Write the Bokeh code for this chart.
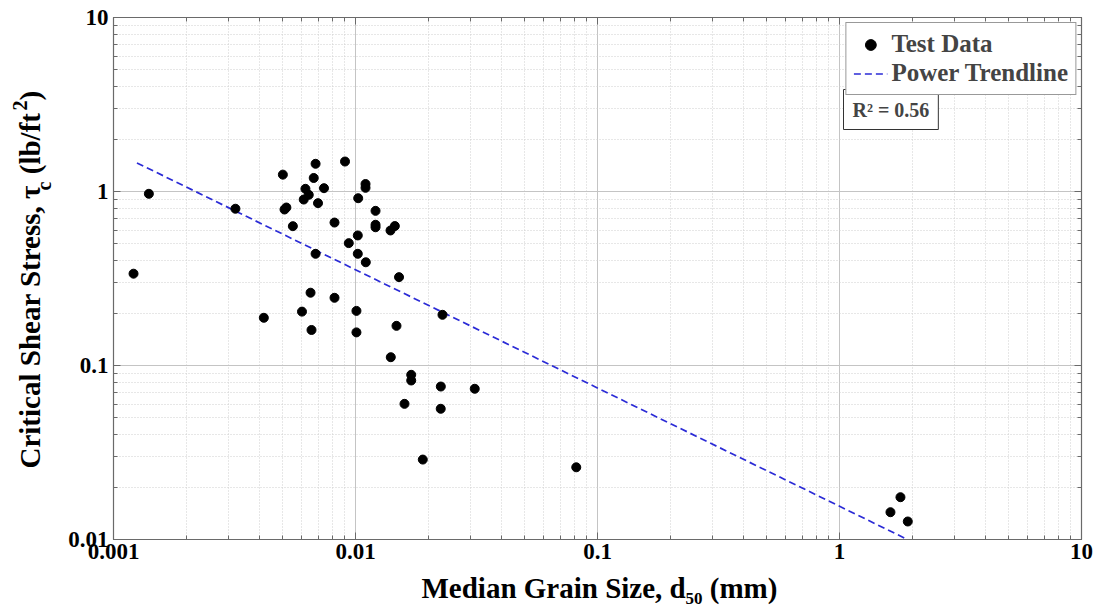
import math
from bokeh.plotting import figure
from bokeh.layouts import row, column
from bokeh.models import (Range1d, FixedTicker, CustomJSTickFormatter, LogAxis,
                          Label, Legend, LegendItem)
from bokeh.core.properties import value
from bokeh.embed import file_html
from bokeh.resources import INLINE

# ---- data ----
d50_mm = [0.00121, 0.00140, 0.00319, 0.00418, 0.00501, 0.00509, 0.00518, 0.00551,
          0.00601, 0.00621, 0.00611, 0.00641, 0.00652, 0.00658, 0.00672, 0.00684,
          0.00700, 0.00684, 0.00741, 0.00819, 0.00819, 0.00905, 0.00938, 0.01009,
          0.01009, 0.01026, 0.01022, 0.01022, 0.01100, 0.01100, 0.01103, 0.01210,
          0.01210, 0.01210, 0.01395, 0.01454, 0.01513, 0.01477, 0.01399, 0.02288,
          0.01699, 0.01699, 0.02252, 0.03110, 0.01594, 0.02250, 0.01897, 0.08170,
          1.786, 1.624, 1.915]
tau_c = [0.337, 0.970, 0.796, 0.188, 1.250, 0.788, 0.809, 0.632,
         0.204, 1.036, 0.899, 0.957, 0.262, 0.160, 1.196, 1.443,
         0.857, 0.4385, 1.045, 0.663, 0.245, 1.487, 0.505, 0.206,
         0.155, 0.915, 0.559, 0.4385, 1.104, 1.050, 0.392, 0.774,
         0.644, 0.623, 0.597, 0.633, 0.322, 0.169, 0.1116, 0.1956,
         0.0884, 0.0820, 0.0757, 0.0735, 0.0602, 0.0564, 0.0288, 0.0260,
         0.0175, 0.01435, 0.01269]
trend_x = [0.00125, 1.91]
trend_y = [1.46, 0.0100]
x_ticks = [0.001, 0.01, 0.1, 1, 10]
y_ticks = [0.01, 0.1, 1, 10]
r_squared_text = "R\u00b2 = 0.56"
legend_labels = ["Test Data", "Power Trendline"]
y_title = ["Critical Shear Stress, \u03c4", "c", "\u00a0(lb/ft", "2", ")"]
x_title = ["Median Grain Size, d", "50", "\u00a0(mm)"]

minor_x = [m * 10.0 ** e for e in range(-3, 1) for m in range(2, 10)]
minor_y = [m * 10.0 ** e for e in range(-2, 1) for m in range(2, 10)]

FONT = "Liberation Serif"
AX = "#6a6a6a"
W, H = 1096, 608
LEFT_W = 60          # strip holding the y title
BOTTOM_H = 36        # strip holding the x title
MAIN_W, MAIN_H = W - LEFT_W, H - BOTTOM_H
BL, BR = 53, 15      # main plot side borders

p = figure(width=MAIN_W, height=MAIN_H, x_axis_type="log", y_axis_type="log",
           x_range=Range1d(0.001, 10), y_range=Range1d(0.01, 10),
           output_backend="svg", toolbar_location=None, title=None,
           min_border_left=BL, min_border_right=BR, min_border_top=17,
           min_border_bottom=33)
p.background_fill_color = "white"
p.border_fill_color = "white"
p.outline_line_color = AX
p.outline_line_width = 1.2

xt = FixedTicker(ticks=x_ticks, minor_ticks=minor_x)
yt = FixedTicker(ticks=y_ticks, minor_ticks=minor_y)

for ax, t in ((p.xaxis[0], xt), (p.yaxis[0], yt)):
    ax.ticker = t
    ax.formatter = CustomJSTickFormatter(code="return String(tick);")
    ax.major_label_text_font = FONT
    ax.major_label_text_font_style = "bold"
    ax.major_label_text_font_size = "23px"
    ax.major_label_text_color = "black"
    ax.axis_line_color = AX
    ax.major_tick_line_color = AX
    ax.minor_tick_line_color = AX
    ax.major_tick_in = 7
    ax.major_tick_out = 0
    ax.minor_tick_in = 4
    ax.minor_tick_out = 0
p.xaxis[0].major_label_standoff = 4
p.yaxis[0].major_label_standoff = 5

for loc, t in (("right", yt), ("above", xt)):
    a = LogAxis(ticker=t, formatter=CustomJSTickFormatter(code="return String(tick);"),
                major_label_text_font_size="1px", major_label_text_alpha=0,
                axis_line_color=AX, major_tick_line_color=AX,
                minor_tick_line_color=AX, major_tick_in=7, major_tick_out=0,
                minor_tick_in=4, minor_tick_out=0, major_label_standoff=0)
    p.add_layout(a, loc)

p.xgrid[0].ticker = xt
p.ygrid[0].ticker = yt
for g in (p.xgrid[0], p.ygrid[0]):
    g.grid_line_color = "#c4c4c4"
    g.grid_line_width = 1
    g.minor_grid_line_color = "#cfcfcf"
    g.minor_grid_line_dash = "1 2"
    g.minor_grid_line_width = 1

r_tr = p.line(trend_x, trend_y, line_color="#2b2bd6", line_dash="7 4", line_width=1.7)
r_pts = p.scatter(d50_mm, tau_c, size=9, color="black")

legend = Legend(items=[LegendItem(label=legend_labels[0], renderers=[r_pts]),
                       LegendItem(label=legend_labels[1], renderers=[r_tr])],
                location="top_right", margin=5, padding=7, spacing=1,
                glyph_width=34, glyph_height=27, label_height=27, label_standoff=4,
                label_text_font=FONT, label_text_font_style="bold",
                label_text_font_size="25px", border_line_color="#333333",
                border_line_width=1, background_fill_color="white",
                background_fill_alpha=1)
p.add_layout(legend)

p.add_layout(Label(x=0.001, y=10, x_offset=730, y_offset=-72, text=r_squared_text,
                   text_font=FONT, text_font_style="bold", text_font_size="20px",
                   text_align="left", text_baseline="top", padding=9,
                   border_line_color="#333333", border_line_width=1,
                   background_fill_color="white"))


def strip(width, height, xr, yr, bl=0, br=0):
    f = figure(width=width, height=height, x_range=Range1d(*xr),
               y_range=Range1d(*yr), output_backend="svg", title=None,
               toolbar_location=None, min_border=0, min_border_left=bl,
               min_border_right=br, min_border_top=0, min_border_bottom=0,
               x_axis_location=None, y_axis_location=None)
    f.outline_line_color = None
    f.grid.visible = False
    f.background_fill_color = "white"
    f.border_fill_color = "white"
    return f


# y title strip: data units are page pixels, y measured upward from the bottom
yf = strip(LEFT_W, H, (0, LEFT_W), (0, H))
R = math.pi / 2
yf.text(x=[29, 43, 29, 19, 29], y=[140, 418, 427, 498, 508], text=y_title,
        angle=R, text_font=value(FONT), text_font_style="bold",
        text_font_size=["29px", "20px", "29px", "20px", "29px"],
        text_align="left", text_baseline="alphabetic", text_color="black")

# x title strip: frame lined up with the main frame (page x 113..1081)
xf = strip(MAIN_W, BOTTOM_H, (LEFT_W + BL, W - BR), (0, BOTTOM_H), BL, BR)
xf.text(x=[421, 685, 702], y=[21, 10, 21], text=x_title,
        text_font=value(FONT), text_font_style="bold",
        text_font_size=["29px", "17px", "29px"],
        text_align="left", text_baseline="alphabetic", text_color="black")

layout = row(yf, column(p, xf, spacing=0), spacing=0)
open("out.html", "w").write(file_html(layout, INLINE))
